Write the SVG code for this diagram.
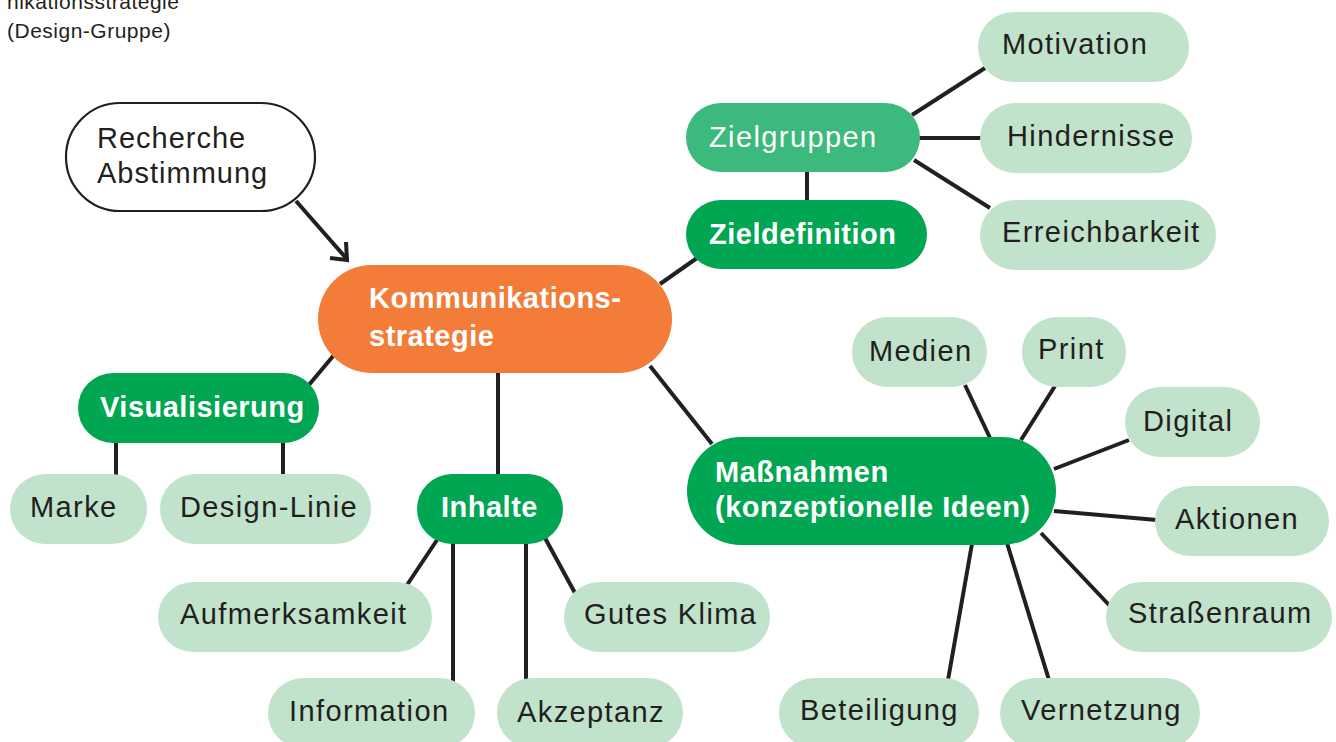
<svg xmlns="http://www.w3.org/2000/svg" width="1336" height="742" viewBox="0 0 1336 742">
<style>
.t{font-family:"Liberation Sans",Arial,sans-serif;font-size:29px;fill:#231f20;letter-spacing:1.4px}
.b{font-family:"Liberation Sans",Arial,sans-serif;font-size:29px;font-weight:bold;fill:#fff;letter-spacing:0.5px}
.lt{fill:#c1e2cb}
.dk{fill:#00a651}
.md{fill:#3cb97c}
.or{fill:#f27c38}
.cap{font-family:"Liberation Sans",Arial,sans-serif;font-size:21px;fill:#231f20;letter-spacing:0.5px}
.c line,.c path{stroke:#231f20;stroke-width:4;fill:none}
</style>
<rect width="1336" height="742" fill="#fff"/>
<text class="cap" x="7" y="9">nikationsstrategie</text>
<text class="cap" x="7" y="38">(Design-Gruppe)</text>
<g class="c" id="connectors">
<line x1="296" y1="201" x2="346" y2="258"/>
<path d="M330 258 L347 260 L346 242" stroke-width="3.5"/>
<line x1="334" y1="355" x2="308" y2="386"/>
<line x1="116" y1="440" x2="116" y2="476"/>
<line x1="283" y1="440" x2="283" y2="476"/>
<line x1="498" y1="370" x2="498" y2="476"/>
<line x1="437" y1="540" x2="407" y2="585"/>
<line x1="453" y1="540" x2="453" y2="682"/>
<line x1="526" y1="540" x2="526" y2="682"/>
<line x1="545" y1="538" x2="575" y2="593"/>
<line x1="660" y1="284" x2="697" y2="258"/>
<line x1="807" y1="170" x2="807" y2="202"/>
<line x1="912" y1="115" x2="985" y2="68"/>
<line x1="916" y1="138" x2="982" y2="138" stroke-width="5"/>
<line x1="914" y1="160" x2="990" y2="208"/>
<line x1="650" y1="366" x2="712" y2="444"/>
<line x1="965" y1="385" x2="991" y2="440"/>
<line x1="1055" y1="386" x2="1021" y2="440"/>
<line x1="1129" y1="440" x2="1054" y2="469"/>
<line x1="1157" y1="520" x2="1054" y2="511"/>
<line x1="1041" y1="533" x2="1110" y2="606"/>
<line x1="973" y1="538" x2="948" y2="680"/>
<line x1="1007" y1="543" x2="1049" y2="680"/>
</g>
<g id="recherche"><rect x="66" y="103" width="249" height="108" rx="54" fill="#fff" stroke="#231f20" stroke-width="2.2"/><text class="t" x="97" y="148" style="letter-spacing:1px">Recherche</text><text class="t" x="97" y="183" style="letter-spacing:1px">Abstimmung</text></g>
<g id="kommunikation"><rect class="or" x="318" y="265" width="354" height="108" rx="54"/><text class="b" x="369" y="308">Kommunikations-</text><text class="b" x="369" y="346">strategie</text></g>
<g id="visualisierung"><rect class="dk" x="78" y="373" width="241" height="70" rx="35"/><text class="b" x="100" y="417">Visualisierung</text></g>
<g id="marke"><rect class="lt" x="10" y="474" width="137" height="70" rx="35"/><text class="t" x="30" y="517">Marke</text></g>
<g id="designlinie"><rect class="lt" x="160" y="474" width="211" height="70" rx="35"/><text class="t" x="180" y="517">Design-Linie</text></g>
<g id="inhalte"><rect class="dk" x="417" y="474" width="146" height="70" rx="35"/><text class="b" x="441" y="517">Inhalte</text></g>
<g id="aufmerksamkeit"><rect class="lt" x="158" y="582" width="274" height="70" rx="35"/><text class="t" x="180" y="624">Aufmerksamkeit</text></g>
<g id="gutesklima"><rect class="lt" x="564" y="582" width="206" height="70" rx="35"/><text class="t" x="584" y="624">Gutes Klima</text></g>
<g id="information"><rect class="lt" x="268" y="678" width="207" height="70" rx="35"/><text class="t" x="289" y="721">Information</text></g>
<g id="akzeptanz"><rect class="lt" x="497" y="678" width="186" height="70" rx="35"/><text class="t" x="517" y="722">Akzeptanz</text></g>
<g id="zielgruppen"><rect class="md" x="686" y="103" width="234" height="69" rx="34.5"/><text class="t" x="709" y="147" style="fill:#fff">Zielgruppen</text></g>
<g id="zieldefinition"><rect class="dk" x="686" y="200" width="241" height="69" rx="34.5"/><text class="b" x="709" y="244">Zieldefinition</text></g>
<g id="motivation"><rect class="lt" x="978" y="12" width="211" height="70" rx="35"/><text class="t" x="1002" y="54">Motivation</text></g>
<g id="hindernisse"><rect class="lt" x="980" y="103" width="212" height="70" rx="35"/><text class="t" x="1007" y="146">Hindernisse</text></g>
<g id="erreichbarkeit"><rect class="lt" x="980" y="200" width="236" height="70" rx="35"/><text class="t" x="1002" y="242">Erreichbarkeit</text></g>
<g id="massnahmen"><rect class="dk" x="687" y="437" width="369" height="108" rx="54"/><text class="b" x="715" y="482">Maßnahmen</text><text class="b" x="715" y="517">(konzeptionelle Ideen)</text></g>
<g id="medien"><rect class="lt" x="852" y="317" width="135" height="70" rx="35"/><text class="t" x="869" y="361">Medien</text></g>
<g id="print"><rect class="lt" x="1022" y="317" width="104" height="70" rx="35"/><text class="t" x="1038" y="359">Print</text></g>
<g id="digital"><rect class="lt" x="1125" y="387" width="135" height="70" rx="35"/><text class="t" x="1143" y="431">Digital</text></g>
<g id="aktionen"><rect class="lt" x="1155" y="486" width="174" height="70" rx="35"/><text class="t" x="1175" y="529">Aktionen</text></g>
<g id="strassenraum"><rect class="lt" x="1106" y="582" width="226" height="70" rx="35"/><text class="t" x="1128" y="623">Straßenraum</text></g>
<g id="beteiligung"><rect class="lt" x="779" y="678" width="200" height="70" rx="35"/><text class="t" x="800" y="720">Beteiligung</text></g>
<g id="vernetzung"><rect class="lt" x="1000" y="678" width="200" height="70" rx="35"/><text class="t" x="1021" y="720">Vernetzung</text></g>
</svg>
